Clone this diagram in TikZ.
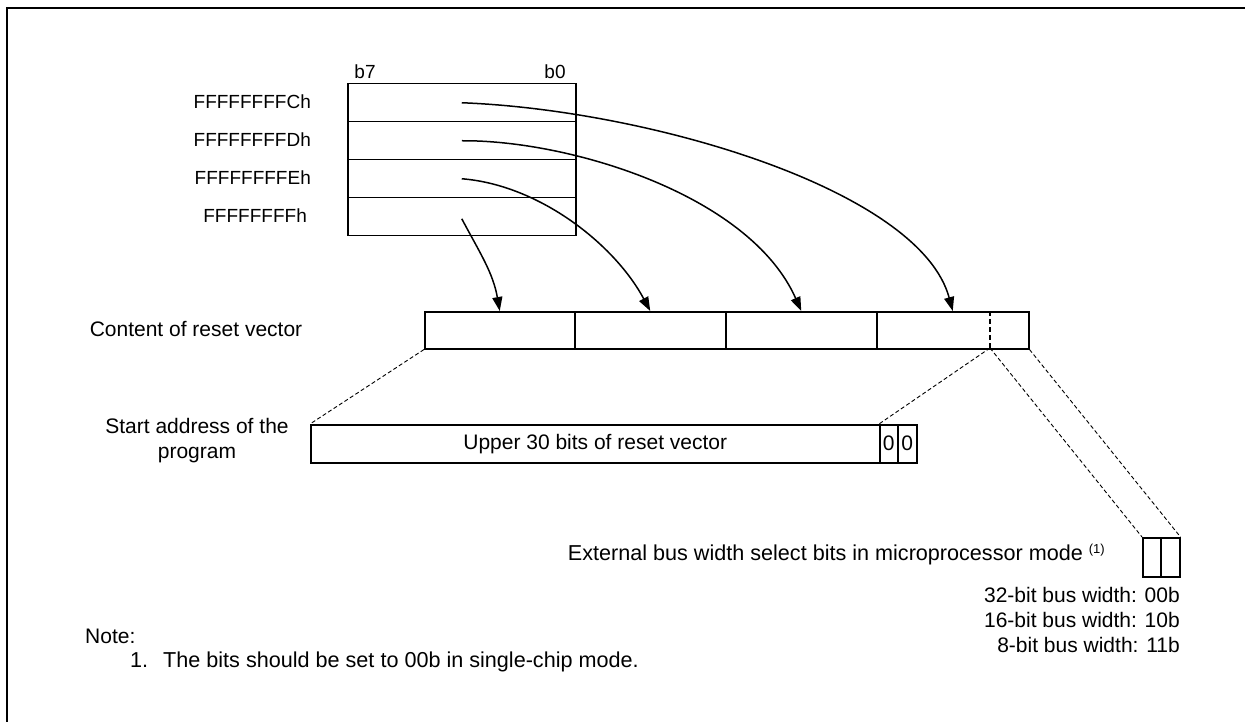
\documentclass[tikz,border=0pt]{standalone}
\usepackage{fontspec}
\setmainfont{Liberation Sans}
\usetikzlibrary{arrows.meta}
\begin{document}
\begin{tikzpicture}[x=1pt,y=-1pt,
  cell/.style={draw, line width=1.5pt, inner sep=0pt, anchor=north west},
  lbl/.style={font=\fontsize{21}{25}\selectfont, inner sep=0pt},
  big/.style={font=\fontsize{21.6}{25}\selectfont, inner sep=0pt},
  adr/.style={font=\fontsize{19}{22}\selectfont, inner sep=0pt, anchor=east},
  link/.style={line width=1.5pt, -{Triangle[length=14pt,width=10pt]}},
  zoomline/.style={line width=0.9pt, dash pattern=on 4pt off 2.5pt},
  divline/.style={line width=2.2pt, dash pattern=on 5pt off 3pt}]
\useasboundingbox (0,0) rectangle (1245,722);
\draw[line width=2pt] (7,722) -- (7,8) -- (1245,8);

% memory bytes
\node[cell, minimum width=228pt, minimum height=38pt] (m1) at (347,83) {};
\node[cell, minimum width=228pt, minimum height=38pt] (m2) at (347,121) {};
\node[cell, minimum width=228pt, minimum height=38pt] (m3) at (347,159) {};
\node[cell, minimum width=228pt, minimum height=38pt] (m4) at (347,197) {};
\node[adr, anchor=center] (b7) at (365,72) {b7};
\node[adr, anchor=center] (b0) at (555,72) {b0};
\node[adr] (a1) at (311,102) {FFFFFFFFCh};
\node[adr] (a2) at (311,140) {FFFFFFFFDh};
\node[adr] (a3) at (311,178) {FFFFFFFFEh};
\node[adr] (a4) at (307,216) {FFFFFFFFh};

% reset vector
\node[lbl] (rvl) at (196,329) {Content of reset vector};
\node[cell, minimum width=150pt, minimum height=37pt] (r1) at (424,311) {};
\node[cell, minimum width=151pt, minimum height=37pt] (r2) at (574,311) {};
\node[cell, minimum width=151pt, minimum height=37pt] (r3) at (725,311) {};
\node[cell, minimum width=152pt, minimum height=37pt] (r4) at (876,311) {};
\coordinate (dt) at (990,311);
\coordinate (db) at (990,348);
\draw[divline] (dt) -- (db);

% arrows
\draw[link] (m1.center) .. controls (650,110) and (920,190) .. (r4.north);
\draw[link] (m2.center) .. controls (570,140) and (750,195) .. (r3.north);
\draw[link] (m3.center) .. controls (540,185) and (615,245) .. (r2.north);
\draw[link] ([yshift=-2pt]m4.center) to[out=-62, in=100] (r1.north);

% start address
\node[lbl, align=center] (sal) at (197,441) {Start address of the\\program};
\node[cell, minimum width=569pt, minimum height=38pt, font=\fontsize{21}{25}\selectfont] (s1) at (310,424) {Upper 30 bits of reset vector};
\node[cell, minimum width=18pt, minimum height=38pt, font=\fontsize{21}{25}\selectfont] (s2) at (879,424) {0};
\node[cell, minimum width=19pt, minimum height=38pt, font=\fontsize{21}{25}\selectfont] (s3) at (897,424) {0};

% external bus width bits
\node[cell, minimum width=18pt, minimum height=39pt] (e1) at (1142,537) {};
\node[cell, minimum width=19pt, minimum height=39pt] (e2) at (1160,537) {};
\node[big, anchor=east] (ebl) at (1105,555) {External bus width select bits in microprocessor mode \raisebox{7pt}{\fontsize{13}{13}\selectfont(1)}};
\node[lbl, anchor=east] (w1) at (1180,595) {32-bit bus width: 00b};
\node[lbl, anchor=east] (w2) at (1180,620) {16-bit bus width: 10b};
\node[lbl, anchor=east] (w3) at (1180,645) {8-bit bus width: 11b};

% zoom lines
\draw[zoomline] (r1.south west) -- (s1.north west);
\draw[zoomline] (db) -- (s2.north west);
\draw[zoomline] (db) -- (e1.north west);
\draw[zoomline] (r4.south east) -- (e2.north east);

% note
\node[lbl, anchor=west] (n0) at (85,636) {Note:};
\node[big, anchor=west] (n1) at (130,662) {1.\hspace{15pt}The bits should be set to 00b in single-chip mode.};
\end{tikzpicture}
\end{document}
